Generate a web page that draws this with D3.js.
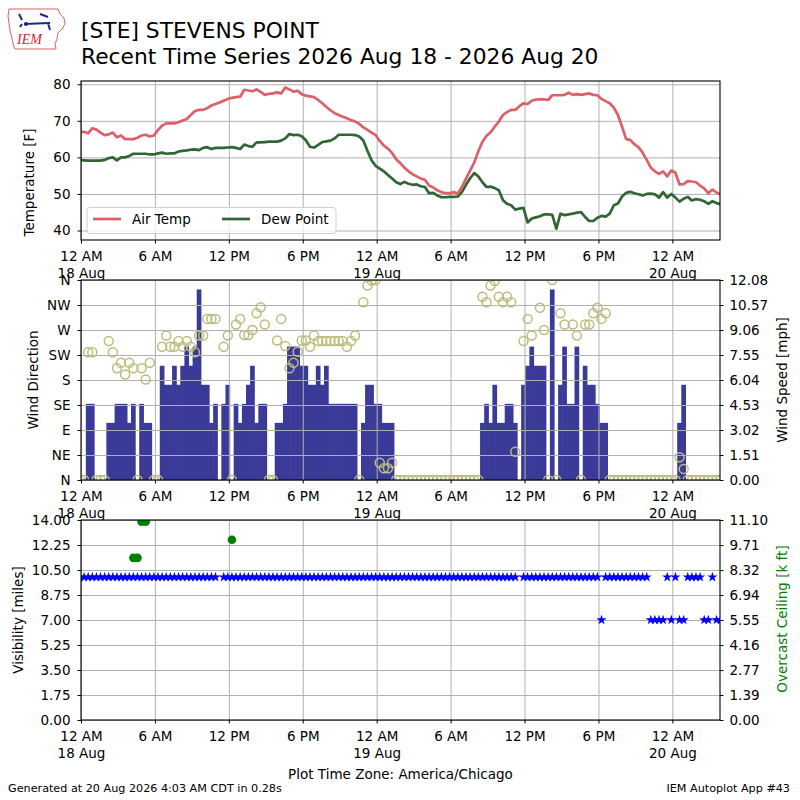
<!DOCTYPE html>
<html>
<head>
<meta charset="utf-8">
<script src="https://cdn.jsdelivr.net/npm/d3@7"></script>
<style>
  body { margin: 0; background: #fff; }
  svg { display: block; }
</style>
</head>
<body>
<svg id="chart" width="800" height="800"></svg>
<script>
// Observations every 20 minutes, first one at 23:55 on 17 Aug (local time)
const firstObs = Date.UTC(2026, 7, 17, 23, 55);
const obsStepMinutes = 20;

// Air temperature [F]
const airTemp = [
  67, 67, 66.6, 68, 67.6, 66.8, 66.1, 66.3, 66.8, 65.5,
  66, 65, 65, 65, 65.4, 66, 66.2, 65.7, 66, 67.5,
  68.7, 69.3, 69.3, 69.3, 69.6, 70.1, 70.5, 71.6, 72.7, 73,
  73, 73.5, 74.2, 74.6, 75, 75.5, 76, 76.3, 76.5, 76.6,
  78.5, 78.3, 78.1, 78.6, 77.9, 77.1, 77.4, 77.5, 77.8, 77.5,
  79.1, 78.6, 78, 78.2, 77.3, 76.9, 76.7, 76.5, 75.7, 74.8,
  73.8, 72.9, 72.1, 71.6, 71.1, 70.7, 70.2, 69.8, 69.2, 68.2,
  67.5, 66.8, 66.1, 64.5, 63.2, 62.4, 61.2, 59.5, 58.4, 57.2,
  56.2, 55.4, 54.8, 54.2, 53.9, 52.3, 51.8, 51, 50.5, 50.2,
  50.2, 50.5, 50.1, 51.9, 54.2, 56.4, 58.6, 61.7, 64.3, 65.9,
  66.9, 68.4, 69.8, 71.6, 72.4, 73, 73, 74, 74.8, 74.6,
  75.5, 75.8, 75.9, 75.9, 75.7, 77, 77, 77, 77.1, 77.7,
  77.1, 77.3, 77.1, 77.3, 77.5, 77.1, 77, 76, 75.4, 74.8,
  73.6, 71.6, 68.4, 65, 64.8, 63.6, 62.8, 61.3, 59.3, 57.2,
  56.2, 55.5, 56.2, 54.8, 56.4, 55.8, 52.6, 52.7, 53.5, 53.4,
  53.2, 52.3, 51.5, 50.2, 51.2, 50.4, 49.9
];

// Dew point [F]
const dewPoint = [
  59.3, 59.2, 59.1, 59.1, 59.1, 59.1, 59.3, 59.8, 60, 59.2,
  60, 60, 60.4, 61, 61, 61, 61, 60.8, 60.8, 61.1,
  61.3, 61, 61.1, 61.1, 61.6, 61.8, 61.9, 62.1, 62.2, 62,
  62.6, 62.8, 62.3, 62.6, 62.6, 62.6, 62.7, 62.8, 62.6, 62.3,
  63.5, 63.1, 62.9, 64.1, 64.1, 64.2, 64.3, 64.3, 64.3, 64.6,
  65.2, 66.4, 66.1, 66.2, 65.8, 64.7, 62.9, 62.7, 63.4, 64.2,
  64.4, 64.6, 65.2, 66.2, 66.2, 66.2, 66.2, 66.1, 65.7, 64.6,
  61.8, 59.2, 57.7, 56.9, 56.2, 55.2, 54.2, 53.2, 52.7, 53.3,
  52.8, 52.5, 52.6, 52.1, 51.9, 50.2, 50.3, 49.6, 49.1, 49.1,
  49.2, 49.2, 49.3, 50.5, 52.5, 54.3, 55.7, 54.8, 53.2, 51.9,
  52, 51.6, 51, 48.3, 47.3, 46.9, 45.7, 46, 46.2, 42.2,
  43.3, 43.6, 43.9, 44.4, 44.4, 44.3, 40.5, 44.6, 44.2, 44.4,
  44.6, 44.9, 45, 43.7, 42.6, 42.6, 43.5, 44, 43.8, 44.6,
  46.9, 47.4, 49.3, 50.3, 50.6, 50.2, 49.9, 49.6, 50, 50.1,
  49.9, 49, 50.5, 49, 50, 49, 47.9, 48.7, 49.2, 48.2,
  48.6, 48.4, 48, 47.3, 48, 47.5, 47.2
];

// Wind speed [mph], null = missing observation
const windSpeed = [
  0, 0, 4.6, 4.6, 0, 0, 0, 3.45, 3.45, 4.6,
  4.6, 4.6, 3.45, 4.6, 0, 4.6, 3.45, 3.45, 0, 0,
  6.9, 5.75, 5.75, 6.9, 5.75, 6.9, 8.06, 6.9, 8.06, 11.51,
  5.75, 5.75, 3.45, 4.6, null, 4.6, 5.75, 0, 4.6, 3.45,
  4.6, 5.75, 6.9, 3.45, 4.6, 4.6, 0, 0, 3.45, 3.45,
  4.6, 8.06, 8.06, 8.06, 6.9, 6.9, 5.75, 5.75, 6.9, 5.75,
  6.9, 4.6, 4.6, 4.6, 4.6, 4.6, 4.6, 4.6, 0, 3.45,
  5.75, 5.75, 4.6, 4.6, 3.45, 3.45, 3.45, 0, 0, 0,
  0, 0, 0, 0, 0, 0, 0, 0, 0, 0,
  0, 0, 0, 0, 0, 0, 0, 0, 3.45, 4.6,
  3.45, 5.75, 3.45, 3.45, 4.6, 4.6, 3.45, null, 5.75, 6.9,
  8.06, 6.9, 6.9, 6.9, 0, 11.51, 0, 5.75, 8.06, 4.6,
  4.6, 8.06, 0, 6.9, 5.75, 5.75, 4.6, 3.45, 3.45, 0,
  0, 0, 0, 0, 0, 0, 0, 0, 0, 0,
  0, 0, 0, 0, 0, 0, 3.45, 5.75, 0, 0,
  0, 0, 0, 0, 0, 0, 0
];

// Wind direction [deg], null = missing
const windDir = [
  0, 0, 230, 230, 0, 0, 0, 250, 230, 201,
  211, 190, 211, 201, 0, 201, 181, 211, 0, 0,
  240, 260, 240, 240, 250, 240, 250, 240, 230, 260,
  260, 290, 290, 290, null, 240, 260, 0, 280, 290,
  261, 261, 270, 300, 311, 280, 0, 0, 251, 290,
  241, 201, 211, 231, 251, 251, 240, 260, 250, 250,
  250, 250, 250, 250, 250, 240, 250, 260, 0, 320,
  350, 359, 360, 31, 21, 21, 31, 0, 0, 0,
  0, 0, 0, 0, 0, 0, 0, 0, 0, 0,
  0, 0, 0, 0, 0, 0, 0, 0, 330, 320,
  350, 358, 330, 320, 330, 320, 51, null, 250, 290,
  260, null, 310, 270, 0, 360, 0, 300, 280, null,
  280, 260, 0, 280, 280, 300, 310, 290, 300, 0,
  0, 0, 0, 0, 0, 0, 0, 0, 0, 0,
  0, 0, 0, 0, 0, 0, 41, 20, 0, 0,
  0, 0, 0, 0, 0, 0, 0
];

// Visibility [miles]
const visibility = [
  10, 10, 10, 10, 10, 10, 10, 10, 10, 10,
  10, 10, 10, 10, 10, 10, 10, 10, 10, 10,
  10, 10, 10, 10, 10, 10, 10, 10, 10, 10,
  10, 10, 10, 10, null, 10, 10, 10, 10, 10,
  10, 10, 10, 10, 10, 10, 10, 10, 10, 10,
  10, 10, 10, 10, 10, 10, 10, 10, 10, 10,
  10, 10, 10, 10, 10, 10, 10, 10, 10, 10,
  10, 10, 10, 10, 10, 10, 10, 10, 10, 10,
  10, 10, 10, 10, 10, 10, 10, 10, 10, 10,
  10, 10, 10, 10, 10, 10, 10, 10, 10, 10,
  10, 10, 10, 10, 10, 10, 10, null, 10, 10,
  10, 10, 10, 10, 10, 10, 10, 10, 10, 10,
  10, 10, 10, 10, 10, 10, 10, 7, 10, 10,
  10, 10, 10, 10, 10, 10, 10, 10, 10, 7,
  7, 7, 7, 10, 7, 10, 7, 7, 10, 10,
  10, 10, 7, 7, 10, 7, 7
];

// Overcast ceiling [k ft]
const ceiling = [
  null, null, null, null, null, null, null, null, null, null,
  null, null, null, 9, 9, 11, 11, null, null, null,
  null, null, null, null, null, null, null, null, null, null,
  null, null, null, null, null, null, null, 10, null, null,
  null, null, null, null, null, null, null, null, null, null,
  null, null, null, null, null, null, null, null, null, null,
  null, null, null, null, null, null, null, null, null, null,
  null, null, null, null, null, null, null, null, null, null,
  null, null, null, null, null, null, null, null, null, null,
  null, null, null, null, null, null, null, null, null, null,
  null, null, null, null, null, null, null, null, null, null,
  null, null, null, null, null, null, null, null, null, null,
  null, null, null, null, null, null, null, null, null, null,
  null, null, null, null, null, null, null, null, null, null,
  null, null, null, null, null, null, null, null, null, null,
  null, null, null, null, null, null, null
];

// axis ticks and labels
const tempTicks = [40, 50, 60, 70, 80];
const dirTicks = [0, 45, 90, 135, 180, 225, 270, 315, 360];
const dirLabels = ["N", "NE", "E", "SE", "S", "SW", "W", "NW", "N"];
const speedTicks = [0, 1.51, 3.02, 4.53, 6.04, 7.55, 9.06, 10.57, 12.08];
const visTicks = [0, 1.75, 3.5, 5.25, 7, 8.75, 10.5, 12.25, 14];
const ceilTicks = [0, 1.39, 2.77, 4.16, 5.55, 6.94, 8.32, 9.71, 11.1];

const FONT = "DejaVu Sans";
const GRID = "#b0b0b0";

const svg = d3.select("#chart");
const L = 81, R = 720;
const tempBox = [81, 240], windBox = [280, 480], visBox = [520, 720];

const times = airTemp.map((_, i) => new Date(firstObs + i * obsStepMinutes * 60000));
const halfStep = obsStepMinutes * 30000;

const x = d3.scaleUtc()
    .domain([new Date(Date.UTC(2026, 7, 18, 0, 0)), new Date(Date.UTC(2026, 7, 20, 3, 52))])
    .range([L, R]);
const xTicks = x.ticks(d3.utcHour.every(6));

function tickLabel(d) {
  const hh = d3.utcFormat("%-I %p")(d);
  return d.getUTCHours() === 0 ? hh + "\n" + d3.utcFormat("%d %b")(d) : hh;
}

function clip(id, box) {
  svg.append("clipPath").attr("id", id).append("rect")
      .attr("x", L).attr("y", box[0]).attr("width", R - L).attr("height", box[1] - box[0]);
}

function grid(box, y, ticks) {
  const g = svg.append("g");
  g.append("g").attr("transform", "translate(0," + box[1] + ")")
      .call(d3.axisBottom(x).tickValues(xTicks).tickSize(-(box[1] - box[0])).tickFormat(""))
      .call(a => a.select(".domain").remove());
  g.append("g").attr("transform", "translate(" + L + ",0)")
      .call(d3.axisLeft(y).tickValues(ticks).tickSize(-(R - L)).tickFormat(""))
      .call(a => a.select(".domain").remove());
  g.selectAll("line").attr("stroke", GRID).attr("stroke-width", 1);
}

function styleAxis(g) {
  g.attr("font-family", FONT).attr("font-size", 13.5);
  g.select(".domain").remove();
  g.selectAll("line").attr("stroke", "#000").attr("stroke-width", 1);
  g.selectAll("text").attr("fill", "#000");
}

function xAxis(box) {
  const g = svg.append("g").attr("transform", "translate(0," + box[1] + ")")
      .call(d3.axisBottom(x).tickValues(xTicks).tickSize(3.5).tickPadding(8).tickFormat(tickLabel));
  styleAxis(g);
  g.selectAll(".tick text").each(function(d) {
    const lines = tickLabel(d).split("\n");
    const t = d3.select(this).text("");
    lines.forEach((s, i) => t.append("tspan").attr("x", 0).attr("dy", i ? "1.24em" : null).text(s));
  });
}

function leftAxis(y, ticks, fmt) {
  const g = svg.append("g").attr("transform", "translate(" + L + ",0)")
      .call(d3.axisLeft(y).tickValues(ticks).tickSize(3.5).tickPadding(7).tickFormat(fmt));
  styleAxis(g);
}

function rightAxis(y, ticks, fmt) {
  const g = svg.append("g").attr("transform", "translate(" + R + ",0)")
      .call(d3.axisRight(y).tickValues(ticks).tickSize(3.5).tickPadding(6).tickFormat(fmt));
  styleAxis(g);
}

function spine(box) {
  svg.append("rect").attr("x", L).attr("y", box[0]).attr("width", R - L)
      .attr("height", box[1] - box[0]).attr("fill", "none").attr("stroke", "#000").attr("stroke-width", 1.1);
}

function vLabel(text, cx, cy, color) {
  svg.append("text").attr("transform", "translate(" + cx + "," + cy + ") rotate(-90)")
      .attr("text-anchor", "middle").attr("dominant-baseline", "central")
      .attr("font-family", FONT).attr("font-size", 13.5).attr("fill", color || "#000").text(text);
}

// ---------- Temperature panel ----------
const yTemp = d3.scaleLinear().domain([37.4, 80.9]).range([tempBox[1], tempBox[0]]);
clip("clipTemp", tempBox);
grid(tempBox, yTemp, tempTicks);

const tempLine = d3.line().x((d, i) => x(times[i])).y(d => yTemp(d));
const tempG = svg.append("g").attr("clip-path", "url(#clipTemp)");
tempG.append("path").datum(dewPoint).attr("d", tempLine)
    .attr("fill", "none").attr("stroke", "#2f6634").attr("stroke-width", 2.7).attr("stroke-linejoin", "round");
tempG.append("path").datum(airTemp).attr("d", tempLine)
    .attr("fill", "none").attr("stroke", "#dc6068").attr("stroke-width", 2.7).attr("stroke-linejoin", "round");

spine(tempBox);
xAxis(tempBox);
leftAxis(yTemp, tempTicks, d3.format("d"));
vLabel("Temperature [F]", 28.5, 182.5);

// legend
const leg = svg.append("g");
leg.append("rect").attr("x", 87).attr("y", 207.5).attr("width", 249).attr("height", 26).attr("rx", 3)
    .attr("fill", "#fff").attr("fill-opacity", 0.8).attr("stroke", "#d0d0d0");
[["Air Temp", "#dc6068", 93], ["Dew Point", "#2f6634", 222]].forEach(([name, col, lx]) => {
  leg.append("line").attr("x1", lx).attr("x2", lx + 28).attr("y1", 219).attr("y2", 219)
      .attr("stroke", col).attr("stroke-width", 2.7);
  leg.append("text").attr("x", lx + 39).attr("y", 224).attr("font-family", FONT)
      .attr("font-size", 13.5).text(name);
});

// ---------- Wind panel ----------
const yDir = d3.scaleLinear().domain([0, 360]).range([windBox[1], windBox[0]]);
const ySpeed = d3.scaleLinear().domain([0, 12.08]).range([windBox[1], windBox[0]]);
clip("clipWind", windBox);

const windG = svg.append("g").attr("clip-path", "url(#clipWind)");
windG.selectAll("rect.bar")
    .data(windSpeed.map((v, i) => ({ t: times[i], v })).filter(d => d.v !== null && d.v > 0))
    .enter().append("rect")
    .attr("class", "bar")
    .attr("x", d => x(new Date(+d.t - halfStep)) - 0.3)
    .attr("width", d => x(new Date(+d.t + halfStep)) - x(new Date(+d.t - halfStep)) + 0.6)
    .attr("y", d => ySpeed(d.v))
    .attr("height", d => ySpeed(0) - ySpeed(d.v))
    .attr("fill", "#3a3a98");

grid(windBox, yDir, dirTicks);

const windG2 = svg.append("g").attr("clip-path", "url(#clipWind)");
windG2.selectAll("circle")
    .data(windDir.map((v, i) => ({ t: times[i], v })).filter(d => d.v !== null))
    .enter().append("circle")
    .attr("cx", d => x(d.t))
    .attr("cy", d => yDir(d.v))
    .attr("r", 4.5)
    .attr("fill", "none")
    .attr("stroke", "#bcbc7c")
    .attr("stroke-width", 1.5);

spine(windBox);
xAxis(windBox);
leftAxis(yDir, dirTicks, (d, i) => dirLabels[i]);
rightAxis(ySpeed, speedTicks, d3.format(".2f"));
vLabel("Wind Direction", 32.5, 380);
vLabel("Wind Speed [mph]", 781.5, 380);

// ---------- Visibility / ceiling panel ----------
const yVis = d3.scaleLinear().domain([0, 14]).range([visBox[1], visBox[0]]);
const yCeil = d3.scaleLinear().domain([0, 11.1]).range([visBox[1], visBox[0]]);
clip("clipVis", visBox);
grid(visBox, yVis, visTicks);

const visG = svg.append("g").attr("clip-path", "url(#clipVis)");
const star = d3.symbol().type(d3.symbolStar).size(32);
visG.selectAll("path.vis")
    .data(visibility.map((v, i) => ({ t: times[i], v })).filter(d => d.v !== null))
    .enter().append("path")
    .attr("class", "vis")
    .attr("d", star)
    .attr("transform", d => "translate(" + x(d.t) + "," + yVis(d.v) + ")")
    .attr("fill", "#0000ff");
visG.selectAll("circle.ceil")
    .data(ceiling.map((v, i) => ({ t: times[i], v })).filter(d => d.v !== null))
    .enter().append("circle")
    .attr("class", "ceil")
    .attr("cx", d => x(d.t))
    .attr("cy", d => yCeil(d.v))
    .attr("r", 4.3)
    .attr("fill", "#008000");

spine(visBox);
xAxis(visBox);
leftAxis(yVis, visTicks, d3.format(".2f"));
rightAxis(yCeil, ceilTicks, d3.format(".2f"));
vLabel("Visibility [miles]", 17.5, 620);
vLabel("Overcast Ceiling [k ft]", 781.5, 619, "#008000");

svg.append("text").attr("x", (L + R) / 2).attr("y", 779).attr("text-anchor", "middle")
    .attr("font-family", FONT).attr("font-size", 13.5).text("Plot Time Zone: America/Chicago");

// ---------- titles and footer ----------
svg.append("text").attr("x", 81).attr("y", 37.5).attr("font-family", FONT).attr("font-size", 21.8)
    .text("[STE] STEVENS POINT");
svg.append("text").attr("x", 81).attr("y", 63.5).attr("font-family", FONT).attr("font-size", 21.8)
    .text("Recent Time Series 2026 Aug 18 - 2026 Aug 20");
svg.append("text").attr("x", 8).attr("y", 792).attr("font-family", FONT).attr("font-size", 11.2)
    .text("Generated at 20 Aug 2026 4:03 AM CDT in 0.28s");
svg.append("text").attr("x", 790).attr("y", 792).attr("text-anchor", "end").attr("font-family", FONT)
    .attr("font-size", 11.2).text("IEM Autoplot App #43");

// IEM logo (simplified)
const logo = svg.append("g");
logo.append("path")
    .attr("d", "M9,9 L58,9 L60,14 L64,18 L65,24 L62,29 L58,33 L57,39 L55,44 L56,49 L15,49 L13,44 L12,38 L10,31 L9,23 L8,16 Z")
    .attr("fill", "none").attr("stroke", "#e06060").attr("stroke-width", 1);
logo.append("path")
    .attr("d", "M24,24 L50,23 M19,14 L22,20 M40,14 L48,17 M48,23 L50,30 M22,24 L20,27")
    .attr("fill", "none").attr("stroke", "#1a2a8a").attr("stroke-width", 2);
logo.append("circle").attr("cx", 26).attr("cy", 24).attr("r", 2).attr("fill", "#1a2a8a");
logo.append("text").attr("x", 17).attr("y", 43.5).attr("font-family", "Liberation Serif")
    .attr("font-style", "italic").attr("font-size", 14).attr("fill", "#d42a2a").text("IEM");
</script>
</body>
</html>
